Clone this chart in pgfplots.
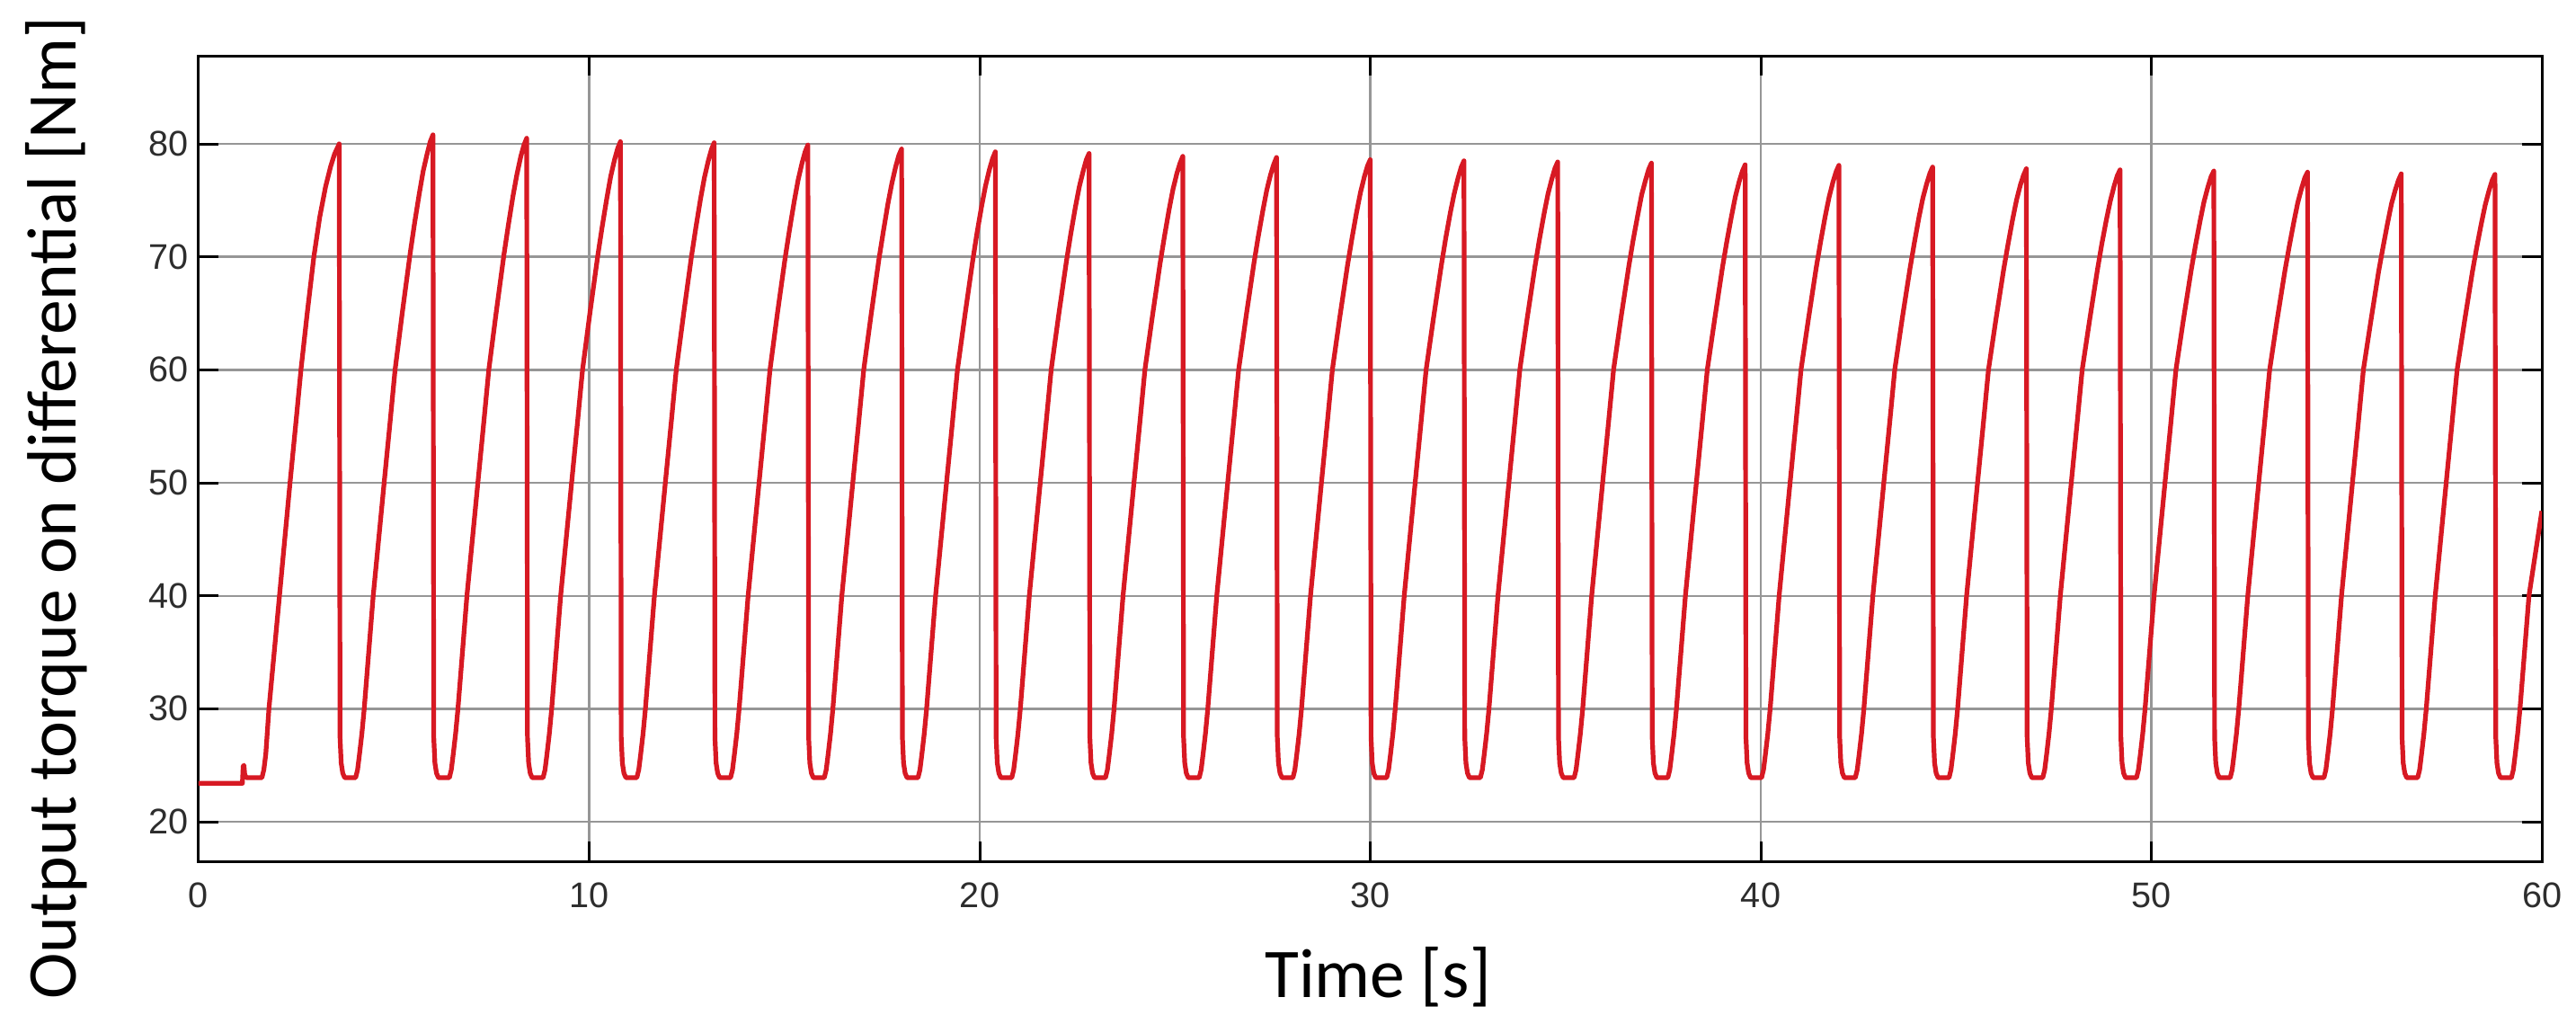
\documentclass[border=0pt]{standalone}
\usepackage{fontspec}
\setmainfont{Carlito}
\newfontfamily\tickfont{Liberation Sans}
\usepackage{pgfplots}
\pgfplotsset{compat=1.18}
\definecolor{redline}{RGB}{215,25,35}
\definecolor{gridgray}{RGB}{150,150,150}
\definecolor{tickgray}{RGB}{45,45,45}
\begin{document}
\begin{tikzpicture}
\useasboundingbox (-55.25pt,-45pt) rectangle (661.25pt,239.5pt);
\begin{axis}[
 at={(0,0)}, anchor=south west,
 width=651.75pt, height=224pt, scale only axis,
 xmin=0, xmax=60, ymin=16.5, ymax=87.8,
 xtick={0,10,...,60}, ytick={20,30,...,80},
 grid=major, major grid style={gridgray, line width=0.6pt},
 axis line style={black, line width=0.75pt},
 tick pos=both, tick align=inside, major tick length=5.5pt,
 every tick/.style={black, line width=0.75pt},
 tick label style={font=\tickfont\fontsize{9.9}{11}\selectfont, text=tickgray, inner sep=0pt},
 /pgf/number format/assume math mode=true,
 xticklabel style={anchor=north, yshift=-5.75pt},
 yticklabel style={anchor=east, xshift=-2.75pt},
 xlabel={Time [s]}, ylabel={Output torque on differential [Nm]},
 label style={font=\fontsize{19.4}{22}\selectfont, inner sep=0pt},
 xlabel style={at={(axis description cs:0.5033,-0.1685)}, anchor=base},
 ylabel style={at={(axis description cs:-0.05217,0.4386)}, anchor=base, rotate=0},
]
\addplot[redline, line width=1.3pt, line join=round, mark=none] coordinates {
(0,23.4) (1.12,23.4) (1.14,24.9) (1.16,25.0) (1.18,24.2) (1.22,23.9) (1.62,23.9) (1.67,24.6) (1.72,26) (1.8,30) (2.07,40) (2.34,50) (2.49,55.3) (2.62,60) (2.78,65) (2.95,70) (3.1,73.5) (3.25,76.2) (3.38,78) (3.48,79.1) (3.6,80)
(3.62,27.5) (3.65,25.2) (3.69,24.3) (3.74,23.9) (4.02,23.9) (4.07,24.6) (4.12,26) (4.18,27.8) (4.24,30) (4.47,40) (4.75,50) (4.90,55.3) (5.03,60) (5.22,65.2) (5.42,70.4) (5.53,73.0) (5.65,75.6) (5.75,77.6) (5.85,79.1) (5.93,80.2) (6.0,80.8)
(6.02,27.5) (6.05,25.2) (6.09,24.3) (6.14,23.9) (6.42,23.9) (6.47,24.6) (6.52,26) (6.58,27.8) (6.64,30) (6.87,40) (7.15,50) (7.30,55.3) (7.43,60) (7.62,65.1) (7.82,70.25) (7.93,72.8) (8.05,75.4) (8.15,77.3) (8.25,78.9) (8.33,79.9) (8.4,80.5)
(8.42,27.5) (8.45,25.2) (8.49,24.3) (8.54,23.9) (8.82,23.9) (8.87,24.6) (8.92,26) (8.98,27.8) (9.04,30) (9.27,40) (9.55,50) (9.70,55.3) (9.83,60) (10.02,65.05) (10.22,70.1) (10.33,72.6) (10.45,75.15) (10.55,77.1) (10.65,78.6) (10.73,79.6) (10.8,80.2)
(10.82,27.5) (10.85,25.2) (10.89,24.3) (10.94,23.9) (11.22,23.9) (11.27,24.6) (11.32,26) (11.38,27.8) (11.44,30) (11.67,40) (11.95,50) (12.10,55.3) (12.23,60) (12.42,65.0) (12.62,70.05) (12.73,72.55) (12.85,75.1) (12.95,77.0) (13.05,78.5) (13.13,79.5) (13.2,80.1)
(13.22,27.5) (13.25,25.2) (13.29,24.3) (13.34,23.9) (13.62,23.9) (13.67,24.6) (13.72,26) (13.78,27.8) (13.84,30) (14.07,40) (14.35,50) (14.50,55.3) (14.63,60) (14.82,65.0) (15.02,69.95) (15.13,72.4) (15.25,74.9) (15.35,76.8) (15.45,78.3) (15.53,79.3) (15.6,79.9)
(15.62,27.5) (15.65,25.2) (15.69,24.3) (15.74,23.9) (16.02,23.9) (16.07,24.6) (16.12,26) (16.18,27.8) (16.24,30) (16.47,40) (16.75,50) (16.90,55.3) (17.03,60) (17.22,64.9) (17.42,69.8) (17.53,72.2) (17.65,74.7) (17.75,76.5) (17.85,78.0) (17.93,79.0) (18.0,79.55)
(18.02,27.5) (18.05,25.2) (18.09,24.3) (18.14,23.9) (18.42,23.9) (18.47,24.6) (18.52,26) (18.58,27.8) (18.64,30) (18.87,40) (19.15,50) (19.30,55.3) (19.43,60) (19.62,64.8) (19.82,69.65) (19.93,72.1) (20.05,74.5) (20.15,76.3) (20.25,77.75) (20.33,78.7) (20.4,79.3)
(20.42,27.5) (20.45,25.2) (20.49,24.3) (20.54,23.9) (20.82,23.9) (20.87,24.6) (20.92,26) (20.98,27.8) (21.04,30) (21.27,40) (21.55,50) (21.70,55.3) (21.83,60) (22.02,64.8) (22.22,69.6) (22.33,72.0) (22.45,74.4) (22.55,76.2) (22.65,77.6) (22.73,78.6) (22.8,79.15)
(22.82,27.5) (22.85,25.2) (22.89,24.3) (22.94,23.9) (23.22,23.9) (23.27,24.6) (23.32,26) (23.38,27.8) (23.44,30) (23.67,40) (23.95,50) (24.10,55.3) (24.23,60) (24.42,64.7) (24.62,69.45) (24.73,71.8) (24.85,74.2) (24.95,76.0) (25.05,77.4) (25.13,78.3) (25.2,78.9)
(25.22,27.5) (25.25,25.2) (25.29,24.3) (25.34,23.9) (25.62,23.9) (25.67,24.6) (25.72,26) (25.78,27.8) (25.84,30) (26.07,40) (26.35,50) (26.50,55.3) (26.63,60) (26.82,64.7) (27.02,69.4) (27.13,71.75) (27.25,74.1) (27.35,75.9) (27.45,77.3) (27.53,78.2) (27.6,78.8)
(27.62,27.5) (27.65,25.2) (27.69,24.3) (27.74,23.9) (28.02,23.9) (28.07,24.6) (28.12,26) (28.18,27.8) (28.24,30) (28.47,40) (28.75,50) (28.90,55.3) (29.03,60) (29.22,64.65) (29.42,69.3) (29.53,71.6) (29.65,73.95) (29.75,75.7) (29.85,77.1) (29.93,78.05) (30.0,78.6)
(30.02,27.5) (30.05,25.2) (30.09,24.3) (30.14,23.9) (30.42,23.9) (30.47,24.6) (30.52,26) (30.58,27.8) (30.64,30) (30.87,40) (31.15,50) (31.30,55.3) (31.43,60) (31.62,64.6) (31.82,69.25) (31.93,71.6) (32.05,73.9) (32.15,75.6) (32.25,77.0) (32.33,77.95) (32.4,78.5)
(32.42,27.5) (32.45,25.2) (32.49,24.3) (32.54,23.9) (32.82,23.9) (32.87,24.6) (32.92,26) (32.98,27.8) (33.04,30) (33.27,40) (33.55,50) (33.70,55.3) (33.83,60) (34.02,64.6) (34.22,69.2) (34.33,71.5) (34.45,73.8) (34.55,75.55) (34.65,76.9) (34.73,77.85) (34.8,78.4)
(34.82,27.5) (34.85,25.2) (34.89,24.3) (34.94,23.9) (35.22,23.9) (35.27,24.6) (35.32,26) (35.38,27.8) (35.44,30) (35.67,40) (35.95,50) (36.10,55.3) (36.23,60) (36.42,64.6) (36.62,69.15) (36.73,71.45) (36.85,73.7) (36.95,75.5) (37.05,76.8) (37.13,77.75) (37.2,78.3)
(37.22,27.5) (37.25,25.2) (37.29,24.3) (37.34,23.9) (37.62,23.9) (37.67,24.6) (37.72,26) (37.78,27.8) (37.84,30) (38.07,40) (38.35,50) (38.50,55.3) (38.63,60) (38.82,64.5) (39.02,69.1) (39.13,71.35) (39.25,73.6) (39.35,75.35) (39.45,76.7) (39.53,77.6) (39.6,78.15)
(39.62,27.5) (39.65,25.2) (39.69,24.3) (39.74,23.9) (40.02,23.9) (40.07,24.6) (40.12,26) (40.18,27.8) (40.24,30) (40.47,40) (40.75,50) (40.90,55.3) (41.03,60) (41.22,64.5) (41.42,69.05) (41.53,71.3) (41.65,73.6) (41.75,75.3) (41.85,76.65) (41.93,77.55) (42.0,78.1)
(42.02,27.5) (42.05,25.2) (42.09,24.3) (42.14,23.9) (42.42,23.9) (42.47,24.6) (42.52,26) (42.58,27.8) (42.64,30) (42.87,40) (43.15,50) (43.30,55.3) (43.43,60) (43.62,64.5) (43.82,68.95) (43.93,71.2) (44.05,73.5) (44.15,75.2) (44.25,76.5) (44.33,77.4) (44.4,77.95)
(44.42,27.5) (44.45,25.2) (44.49,24.3) (44.54,23.9) (44.82,23.9) (44.87,24.6) (44.92,26) (44.98,27.8) (45.04,30) (45.27,40) (45.55,50) (45.70,55.3) (45.83,60) (46.02,64.45) (46.22,68.9) (46.33,71.1) (46.45,73.35) (46.55,75.05) (46.65,76.4) (46.73,77.25) (46.8,77.8)
(46.82,27.5) (46.85,25.2) (46.89,24.3) (46.94,23.9) (47.22,23.9) (47.27,24.6) (47.32,26) (47.38,27.8) (47.44,30) (47.67,40) (47.95,50) (48.10,55.3) (48.23,60) (48.42,64.4) (48.62,68.85) (48.73,71.1) (48.85,73.3) (48.95,74.95) (49.05,76.3) (49.13,77.2) (49.2,77.7)
(49.22,27.5) (49.25,25.2) (49.29,24.3) (49.34,23.9) (49.62,23.9) (49.67,24.6) (49.72,26) (49.78,27.8) (49.84,30) (50.07,40) (50.35,50) (50.50,55.3) (50.63,60) (50.82,64.4) (51.02,68.8) (51.13,71.0) (51.25,73.2) (51.35,74.9) (51.45,76.2) (51.53,77.1) (51.6,77.6)
(51.62,27.5) (51.65,25.2) (51.69,24.3) (51.74,23.9) (52.02,23.9) (52.07,24.6) (52.12,26) (52.18,27.8) (52.24,30) (52.47,40) (52.75,50) (52.90,55.3) (53.03,60) (53.22,64.4) (53.42,68.75) (53.53,70.9) (53.65,73.1) (53.75,74.8) (53.85,76.1) (53.93,77.0) (54.0,77.5)
(54.02,27.5) (54.05,25.2) (54.09,24.3) (54.14,23.9) (54.42,23.9) (54.47,24.6) (54.52,26) (54.58,27.8) (54.64,30) (54.87,40) (55.15,50) (55.30,55.3) (55.43,60) (55.62,64.3) (55.82,68.7) (55.93,70.8) (56.05,73.0) (56.15,74.7) (56.25,75.96) (56.33,76.8) (56.4,77.35)
(56.42,27.5) (56.45,25.2) (56.49,24.3) (56.54,23.9) (56.82,23.9) (56.87,24.6) (56.92,26) (56.98,27.8) (57.04,30) (57.27,40) (57.55,50) (57.70,55.3) (57.83,60) (58.02,64.3) (58.22,68.65) (58.33,70.8) (58.45,72.95) (58.55,74.6) (58.65,75.9) (58.73,76.8) (58.8,77.3)
(58.82,27.5) (58.85,25.2) (58.89,24.3) (58.94,23.9) (59.22,23.9) (59.27,24.6) (59.32,26) (59.38,27.8) (59.44,30) (59.67,40) (60.0,47.5)
};
\end{axis}
\end{tikzpicture}
\end{document}
